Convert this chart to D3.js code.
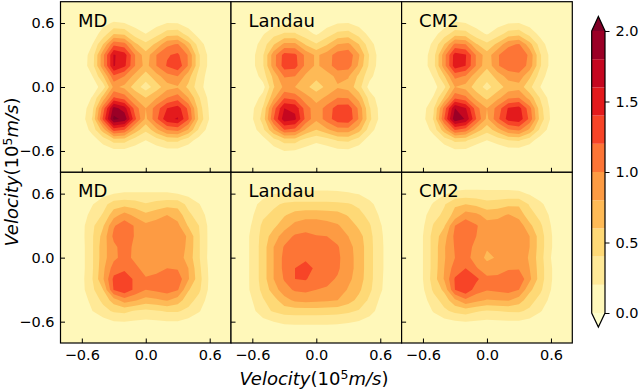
<!DOCTYPE html>
<html><head><meta charset="utf-8">
<script src="https://cdn.jsdelivr.net/npm/d3@7"></script>
<style>html,body{margin:0;padding:0;background:#fff}svg{display:block}text{font-family:"DejaVu Sans",sans-serif;fill:#000}</style>
</head><body><svg id="c" width="640" height="390"></svg>
<script>
const titles = ["MD","Landau","CM2"];
const velocityTicks = [-0.6,0,0.6];
const colorbarTicks = [0,0.5,1,1.5,2];
const levels = [0,0.2,0.4,0.6,0.8,1,1.2,1.4,1.6,1.8,2];
const bandColors = ["#fff8ba","#ffe997","#fed976","#feba56","#fd9b43","#fd7536","#f74427","#e31a1c","#c50720","#9b0026"];
const underColor = "#ffffcc", overColor = "#800026";
const gridVelocity = [-0.8,-0.7,-0.6,-0.5,-0.4,-0.3,-0.2,-0.1,0,0.1,0.2,0.3,0.4,0.5,0.6,0.7,0.8];

const mdTop = [
[0,0,0,0,0,0,0,0,0,0,0,0,0,0,0,0,0],
[0,0,0,.01,.03,.06,.06,.04,.03,.04,.05,.05,.03,.01,0,0,0],
[0,0,.01,.05,.15,.22,.2,.12,.08,.13,.2,.19,.1,.04,.01,0,0],
[0,0,.03,.1,.28,.58,.55,.3,.2,.32,.5,.52,.3,.12,.03,0,0],
[0,0,.05,.2,.6,1.15,1.08,.65,.45,.65,.95,1.02,.68,.3,.08,.01,0],
[0,.01,.08,.3,.95,1.62,1.5,1.0,.68,1.0,1.18,1.24,.98,.42,.13,.02,0],
[0,.01,.08,.32,.95,1.62,1.45,1.0,.72,1.0,1.22,1.35,.98,.42,.13,.02,0],
[0,0,.05,.2,.58,1.15,1.0,.72,.5,.72,.92,1.0,.68,.32,.1,.01,0],
[0,0,.01,.08,.3,.85,.75,.5,.3,.5,.72,.78,.55,.28,.08,.01,0],
[0,0,.05,.22,.68,1.22,1.1,.78,.6,.78,1.0,1.1,.8,.42,.13,.03,0],
[0,.01,.08,.35,1.1,1.88,1.7,1.1,.8,1.1,1.4,1.5,1.15,.5,.16,.04,0],
[0,.01,.1,.42,1.25,2.05,1.95,1.25,.75,1.15,1.55,1.62,1.22,.55,.18,.04,0],
[0,0,.06,.28,.7,1.3,1.2,.72,.45,.75,1.02,1.08,.78,.36,.1,.02,0],
[0,0,.02,.1,.28,.48,.48,.3,.2,.3,.44,.44,.28,.12,.03,0,0],
[0,0,0,.03,.08,.14,.14,.09,.05,.09,.13,.13,.08,.03,0,0,0],
[0,0,0,0,.01,.02,.02,.01,.01,.01,.02,.02,.01,0,0,0,0],
[0,0,0,0,0,0,0,0,0,0,0,0,0,0,0,0,0]];

const landauTop = [
[0,0,0,0,0,0,0,0,0,0,0,0,0,0,0,0,0],
[0,0,0,.01,.02,.03,.03,.02,.01,.02,.04,.05,.03,.01,0,0,0],
[0,0,0,.03,.12,.17,.17,.12,.07,.12,.19,.2,.13,.04,0,0,0],
[0,0,.03,.18,.33,.42,.42,.28,.17,.3,.45,.48,.32,.14,.03,0,0],
[0,.01,.1,.3,.58,.85,.85,.58,.42,.58,.8,.85,.6,.28,.08,.01,0],
[0,.02,.14,.38,.92,1.28,1.25,.95,.76,.9,1.1,1.14,.82,.38,.1,.01,0],
[0,.02,.14,.38,.92,1.3,1.28,.95,.76,.9,1.12,1.1,.76,.35,.1,.01,0],
[0,.01,.06,.3,.66,1.02,1.0,.76,.66,.72,.85,.82,.55,.26,.07,.01,0],
[0,0,.02,.12,.58,.85,.8,.65,.5,.65,.78,.72,.48,.12,.02,0,0],
[0,.01,.07,.28,.75,1.18,1.12,.88,.72,.84,1.0,.98,.72,.32,.08,.01,0],
[0,.02,.16,.42,1.1,1.6,1.55,1.1,.88,1.08,1.3,1.32,.95,.42,.13,.02,0],
[0,.03,.18,.48,1.2,1.72,1.65,1.15,.85,1.1,1.32,1.36,.98,.45,.14,.02,0],
[0,.01,.1,.35,.78,1.2,1.15,.78,.6,.76,.92,.92,.68,.3,.07,.01,0],
[0,0,.02,.12,.32,.48,.48,.32,.25,.3,.42,.44,.3,.1,.01,0,0],
[0,0,0,.03,.1,.2,.18,.12,.06,.1,.14,.15,.08,.02,0,0,0],
[0,0,0,0,.01,.03,.03,.01,0,.01,.02,.02,.01,0,0,0,0],
[0,0,0,0,0,0,0,0,0,0,0,0,0,0,0,0,0]];

const cm2Top = [
[0,0,0,0,0,0,0,0,0,0,0,0,0,0,0,0,0],
[0,0,0,.01,.03,.07,.06,.03,.02,.03,.05,.06,.03,.01,0,0,0],
[0,0,0,.03,.1,.22,.2,.12,.07,.13,.19,.2,.12,.03,0,0,0],
[0,0,.02,.13,.3,.5,.48,.28,.18,.3,.48,.52,.32,.14,.03,0,0],
[0,0,.06,.25,.6,1.05,1.0,.62,.45,.65,.95,1.02,.68,.3,.08,.01,0],
[0,.01,.1,.32,.92,1.5,1.42,.98,.68,.98,1.14,1.2,.95,.42,.13,.02,0],
[0,.01,.1,.33,.92,1.52,1.4,.98,.65,.98,1.12,1.16,.92,.42,.13,.02,0],
[0,0,.05,.22,.58,1.06,.98,.66,.48,.68,.88,.92,.64,.3,.08,.01,0],
[0,0,.02,.12,.35,.8,.72,.5,.33,.5,.68,.72,.45,.2,.04,0,0],
[0,0,.05,.22,.62,1.15,1.05,.72,.55,.74,.96,1.0,.72,.38,.1,.01,0],
[0,.01,.12,.38,1.08,1.8,1.62,1.08,.8,1.08,1.42,1.48,1.08,.48,.15,.02,0],
[0,.02,.14,.42,1.2,1.95,1.78,1.2,.75,1.15,1.48,1.54,1.15,.52,.17,.02,0],
[0,.01,.07,.28,.72,1.22,1.12,.72,.48,.72,.98,1.05,.76,.35,.1,.01,0],
[0,0,.01,.1,.28,.45,.43,.28,.2,.28,.4,.42,.28,.1,.01,0,0],
[0,0,0,.02,.08,.15,.15,.08,.04,.07,.1,.1,.06,.01,0,0,0],
[0,0,0,0,.01,.02,.02,.01,0,.01,.01,.01,.01,0,0,0,0],
[0,0,0,0,0,0,0,0,0,0,0,0,0,0,0,0,0]];

const mdBottom = [
[0,0,0,0,0,0,0,0,0,0,0,0,0,0,0,0,0],
[0,0,0,.01,.03,.05,.06,.06,.06,.06,.06,.05,.03,.01,0,0,0],
[0,0,.01,.06,.14,.2,.22,.22,.22,.22,.22,.2,.14,.06,.01,0,0],
[0,0,.05,.19,.33,.5,.53,.5,.42,.48,.52,.52,.34,.21,.07,.01,0],
[0,.01,.1,.28,.42,.72,.88,.75,.65,.72,.8,.72,.45,.3,.12,.02,0],
[0,.01,.14,.36,.58,.98,1.12,.98,.85,.9,.95,.85,.58,.4,.14,.02,0],
[0,.01,.14,.38,.68,1.05,1.15,.98,.88,.9,.92,.95,.76,.42,.14,.02,0],
[0,.01,.13,.38,.72,.95,1.1,.95,.88,.88,.9,.92,.75,.42,.14,.02,0],
[0,.01,.13,.38,.72,.95,1.08,.95,.85,.88,.9,.9,.72,.42,.13,.02,0],
[0,.01,.13,.38,.75,1.1,1.15,1.05,.92,.95,1.0,.98,.8,.45,.15,.02,0],
[0,.01,.14,.4,.78,1.25,1.35,1.15,1.02,1.05,1.12,1.12,.82,.48,.16,.02,0],
[0,.01,.14,.36,.6,1.22,1.35,1.15,1.0,1.05,1.1,1.02,.62,.44,.15,.02,0],
[0,.01,.08,.28,.45,.7,.9,.82,.72,.76,.82,.7,.48,.33,.1,.01,0],
[0,0,.03,.2,.33,.43,.45,.38,.35,.38,.42,.42,.35,.22,.05,0,0],
[0,0,0,.06,.12,.19,.2,.18,.16,.17,.19,.19,.13,.05,0,0,0],
[0,0,0,0,.02,.03,.04,.03,.03,.03,.03,.03,.02,0,0,0,0],
[0,0,0,0,0,0,0,0,0,0,0,0,0,0,0,0,0]];

const landauBottom = [
[0,0,0,0,0,0,0,0,0,0,0,0,0,0,0,0,0],
[0,0,.01,.03,.05,.07,.08,.08,.08,.08,.08,.07,.05,.03,.01,0,0],
[0,.01,.05,.13,.19,.23,.25,.25,.25,.25,.24,.22,.19,.12,.05,.01,0],
[0,.03,.14,.27,.36,.43,.45,.45,.45,.45,.44,.42,.36,.25,.12,.03,0],
[0,.06,.18,.36,.45,.58,.68,.72,.72,.7,.68,.58,.46,.34,.17,.05,0],
[0,.07,.22,.45,.55,.72,.86,.92,.92,.88,.82,.72,.56,.42,.22,.07,0],
[0,.08,.25,.48,.7,.9,1.03,1.05,1.01,1.0,.92,.8,.68,.46,.24,.08,0],
[0,.08,.25,.5,.8,1.02,1.06,1.1,1.1,1.08,1.02,.86,.72,.47,.25,.08,0],
[0,.08,.25,.5,.8,1.06,1.1,1.15,1.12,1.1,1.04,.88,.72,.47,.25,.08,0],
[0,.08,.25,.5,.8,1.06,1.2,1.3,1.15,1.1,1.03,.88,.72,.47,.25,.08,0],
[0,.08,.25,.5,.8,1.02,1.2,1.22,1.08,1.05,.98,.85,.7,.47,.24,.08,0],
[0,.07,.25,.46,.7,.92,1.03,1.05,1.0,.98,.92,.78,.64,.44,.23,.07,0],
[0,.06,.2,.38,.52,.72,.84,.87,.85,.83,.8,.68,.54,.36,.17,.05,0],
[0,.03,.14,.34,.42,.49,.5,.5,.5,.49,.48,.44,.38,.28,.12,.03,0],
[0,.01,.05,.13,.2,.24,.25,.25,.25,.25,.24,.22,.19,.12,.05,.01,0],
[0,0,.01,.03,.05,.07,.08,.08,.08,.08,.07,.06,.05,.03,.01,0,0],
[0,0,0,0,0,0,0,0,0,0,0,0,0,0,0,0,0]];

const cm2Bottom = [
[0,0,0,0,0,0,0,0,0,0,0,0,0,0,0,0,0],
[0,0,0,.01,.05,.07,.08,.08,.08,.08,.08,.07,.05,.01,0,0,0],
[0,0,.04,.12,.18,.25,.27,.27,.26,.26,.26,.25,.18,.1,.03,0,0],
[0,.02,.1,.22,.38,.57,.6,.55,.48,.5,.55,.57,.38,.24,.11,.02,0],
[0,.03,.14,.32,.45,.68,.9,.85,.72,.74,.82,.72,.48,.34,.16,.03,0],
[0,.04,.17,.42,.58,1.0,1.15,1.02,.88,.9,.95,.92,.65,.44,.2,.04,0],
[0,.04,.2,.48,.72,1.05,1.15,1.0,.88,.88,.9,.92,.8,.5,.22,.04,0],
[0,.04,.2,.48,.78,1.02,1.12,.92,.82,.85,.88,.9,.8,.5,.22,.04,0],
[0,.04,.2,.48,.78,1.0,1.08,.9,.76,.82,.86,.9,.78,.48,.2,.04,0],
[0,.04,.2,.48,.8,1.1,1.2,1.02,.88,.92,.98,.98,.8,.5,.22,.04,0],
[0,.04,.2,.5,.82,1.22,1.38,1.25,1.05,1.05,1.1,1.15,.85,.5,.22,.04,0],
[0,.03,.17,.44,.65,1.2,1.35,1.1,1.02,1.05,1.08,1.0,.65,.44,.2,.03,0],
[0,.02,.12,.32,.48,.75,.95,.86,.78,.8,.82,.7,.48,.33,.14,.02,0],
[0,.01,.06,.22,.36,.45,.5,.42,.38,.4,.42,.43,.36,.22,.07,.01,0],
[0,0,.01,.07,.13,.18,.2,.18,.16,.17,.18,.18,.13,.06,.01,0,0],
[0,0,0,.01,.02,.03,.04,.04,.03,.03,.04,.04,.02,.01,0,0,0],
[0,0,0,0,0,0,0,0,0,0,0,0,0,0,0,0,0]];

const panels = [[mdTop,landauTop,cm2Top],[mdBottom,landauBottom,cm2Bottom]];

const svg = d3.select("#c");
const colX = [[60.5,231],[231,401.6],[401.6,572.3]];
const rowY = [[172.3,1.7],[343,172.3]];
const bandColor = d3.scaleThreshold().domain(levels.slice(1,-1)).range(bandColors);
const axisStroke = 1.2, tickLen = 4.5, tickFont = 14.5;
const fmt = d => d3.format(".1f")(d).replace("-", "\u2212");

function styleAxis(g){
  g.selectAll(".domain").remove();
  g.selectAll("line").attr("stroke","#000").attr("stroke-width",1);
  g.selectAll("text").attr("font-size",tickFont).attr("font-family",'"DejaVu Sans"').attr("fill","#000");
}
panels.forEach((row,r) => row.forEach((grid,c) => {
  const x = d3.scaleLinear().domain([-0.8,0.8]).range(colX[c]);
  const y = d3.scaleLinear().domain([-0.8,0.8]).range(rowY[r]);
  const g = svg.append("g");
  g.append("rect").attr("x",colX[c][0]).attr("y",rowY[r][1]).attr("width",colX[c][1]-colX[c][0]).attr("height",rowY[r][0]-rowY[r][1]).attr("fill",bandColors[0]);
  const n = gridVelocity.length;
  const gx = d3.scaleLinear().domain([0.5,n-0.5]).range(d3.extent(gridVelocity));
  const gy = d3.scaleLinear().domain([0.5,n-0.5]).range(d3.extent(gridVelocity).reverse());
  const proj = d3.geoTransform({point(px,py){this.stream.point(x(gx(px)),y(gy(py)));}});
  const path = d3.geoPath(proj);
  const contours = d3.contours().size([n,n]).smooth(true).thresholds(levels.slice(1));
  const polys = contours(grid.flat());
  g.selectAll("path.band").data(polys).join("path").attr("class","band")
    .attr("d",path)
    .attr("fill",d => d.value >= 2 ? overColor : bandColor(d.value + 0.01));
  const ax = d3.axisLeft(y).tickValues(velocityTicks).tickSizeInner(-tickLen).tickSizeOuter(0).tickPadding(6)
    .tickFormat(c===0 ? fmt : "");
  const ay = g.append("g").attr("transform",`translate(${colX[c][0]},0)`).call(ax); styleAxis(ay);
  const bx = d3.axisBottom(x).tickValues(velocityTicks).tickSizeInner(-tickLen).tickSizeOuter(0).tickPadding(7)
    .tickFormat(r===1 ? fmt : "");
  const by = g.append("g").attr("transform",`translate(0,${rowY[r][0]})`).call(bx); styleAxis(by);
  g.append("rect").attr("x",colX[c][0]).attr("y",rowY[r][1]).attr("width",colX[c][1]-colX[c][0]).attr("height",rowY[r][0]-rowY[r][1]).attr("fill","none").attr("stroke","#000").attr("stroke-width",axisStroke);
  g.append("text").text(titles[c]).attr("x",colX[c][0]+17.5).attr("y",rowY[r][1]+25).attr("font-size",18);
}));

// colorbar
const cbx0 = 591.7, cbx1 = 605;
const cy = d3.scaleLinear().domain([0,2]).range([313,31]);
const cb = svg.append("g");
cb.selectAll("rect").data(bandColors).join("rect")
  .attr("x",cbx0).attr("width",cbx1-cbx0)
  .attr("y",(d,i)=>cy(levels[i+1])).attr("height",(d,i)=>cy(levels[i])-cy(levels[i+1])).attr("fill",d=>d);
const midx=(cbx0+cbx1)/2;
cb.append("path").attr("d",`M${cbx0},${cy(2)}L${midx},${cy(2)-14.5}L${cbx1},${cy(2)}Z`).attr("fill",overColor);
cb.append("path").attr("d",`M${cbx0},${cy(0)}L${midx},${cy(0)+14}L${cbx1},${cy(0)}Z`).attr("fill",underColor);
cb.append("path").attr("d",`M${cbx0},${cy(2)}L${midx},${cy(2)-14.5}L${cbx1},${cy(2)}L${cbx1},${cy(0)}L${midx},${cy(0)+14}L${cbx0},${cy(0)}Z`).attr("fill","none").attr("stroke","#000").attr("stroke-width",1.2);
const cax = cb.append("g").attr("transform",`translate(${cbx1},0)`).call(d3.axisRight(cy).tickValues(colorbarTicks).tickSizeInner(4.5).tickSizeOuter(0).tickPadding(6).tickFormat(d3.format(".1f")));
styleAxis(cax);

function velocityLabel(sel){
  sel.attr("font-size",18).attr("text-anchor","middle");
  sel.append("tspan").attr("font-style","italic").text("Velocity");
  sel.append("tspan").text("(10");
  sel.append("tspan").attr("font-size",12.5).attr("dy",-6).text("5");
  sel.append("tspan").attr("font-style","italic").attr("dy",6).text("m/s");
  sel.append("tspan").text(")");
}
svg.append("text").attr("x",314).attr("y",385).call(velocityLabel);
svg.append("text").attr("transform","translate(18,172) rotate(-90)").call(velocityLabel);
</script></body></html>
